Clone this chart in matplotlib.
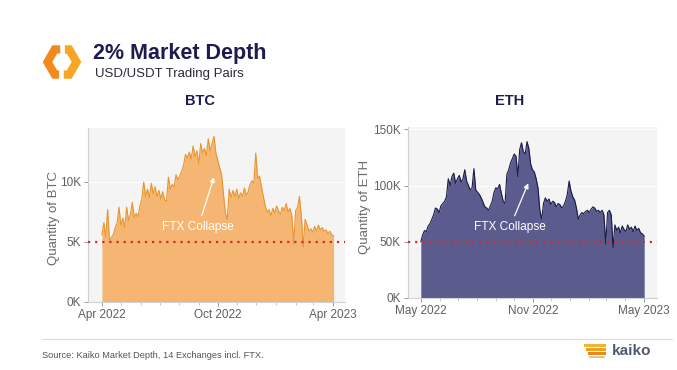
import numpy as np
import pandas as pd
import matplotlib
matplotlib.use("Agg")
from matplotlib import pyplot as plt
import matplotlib.dates as mdates
from matplotlib.ticker import FuncFormatter

plt.rcParams["font.family"] = ["Liberation Sans", "DejaVu Sans"]

# BTC 2% depth (thousands of BTC), one reading every 3 days from 2022-04-01
btc_depth = [5.6, 6.6, 5.4, 7.7, 5.0, 5.4, 5.6, 6.2, 6.6, 7.9, 6.4, 7.0, 6.2, 7.9, 6.8, 7.3,
             8.3, 7.0, 7.4, 7.1, 8.0, 8.6, 10.0, 8.8, 9.4, 8.7, 9.9, 9.0, 9.6, 8.8, 9.3, 8.6,
             9.2, 8.5, 8.4, 10.4, 9.4, 9.8, 9.6, 10.6, 10.2, 10.5, 10.9, 11.4, 12.3, 12.0, 12.5,
             11.9, 13.0, 12.1, 12.6, 11.5, 13.2, 12.4, 12.8, 12.2, 13.6, 12.6, 13.2, 13.8, 12.4,
             11.8, 11.2, 10.6, 9.0, 7.4, 6.9, 9.4, 8.7, 9.3, 8.8, 9.4, 8.6, 9.1, 8.8, 9.5, 8.9,
             9.2, 9.8, 10.1, 9.9, 12.4, 10.3, 10.5, 9.6, 8.8, 8.0, 7.5, 7.7, 7.2, 7.8, 7.4, 8.0,
             7.6, 7.3, 7.9, 7.6, 8.2, 7.5, 7.8, 7.2, 4.8, 7.6, 7.9, 8.8, 7.2, 4.6, 6.9, 6.4,
             5.9, 6.1, 5.8, 6.3, 5.9, 6.4, 6.0, 6.2, 5.9, 6.0, 5.7, 5.9, 5.6, 5.5]

# ETH 2% depth (thousands of ETH), one reading every 3 days from 2022-05-01
eth_depth = [50, 56, 60, 59, 64, 66, 70, 74, 80, 79, 76, 82, 84, 86, 90, 106, 100, 108, 111,
             102, 106, 109, 103, 106, 114, 104, 100, 96, 98, 115, 96, 94, 92, 89, 85, 81, 80,
             78, 82, 86, 94, 98, 97, 101, 93, 86, 84, 110, 114, 120, 124, 128, 126, 108, 132,
             138, 130, 128, 139, 133, 119, 114, 112, 106, 98, 78, 70, 84, 89, 86, 88, 83, 86,
             85, 81, 84, 83, 80, 82, 86, 92, 104, 95, 90, 87, 80, 70, 74, 76, 75, 77, 78, 76,
             79, 81, 80, 77, 78, 76, 78, 74, 48, 76, 78, 74, 45, 65, 60, 63, 58, 64, 61, 59,
             65, 61, 63, 59, 64, 60, 62, 58, 57, 55]

btc_dates = pd.date_range("2022-04-01", periods=len(btc_depth), freq="3D")
eth_dates = pd.date_range("2022-05-01", periods=len(eth_depth), freq="3D")

btc_threshold = 5000
eth_threshold = 50000

W, H = 677, 370
fig = plt.figure(figsize=(W / 100, H / 100), dpi=100)
fig.patch.set_facecolor("white")

navy = "#1c1c4e"
tick_grey = "#5f5f5f"


def style_axes(ax, yticks, xlim, ylim, month0):
    ax.set_facecolor("#f4f4f4")
    for s in ["top", "right"]:
        ax.spines[s].set_visible(False)
    for s in ["left", "bottom"]:
        ax.spines[s].set_color("#d0d0d0")
        ax.spines[s].set_linewidth(0.8)
    ax.set_xlim(pd.Timestamp(xlim[0]), pd.Timestamp(xlim[1]))
    ax.set_ylim(*ylim)
    ax.set_yticks(yticks)
    ax.yaxis.set_major_formatter(FuncFormatter(lambda v, p: "%dK" % round(v / 1000)))
    ax.xaxis.set_major_locator(mdates.MonthLocator(bymonth=[month0, month0 + 6]))
    ax.xaxis.set_minor_locator(mdates.MonthLocator())
    ax.xaxis.set_major_formatter(mdates.DateFormatter("%b %Y"))
    ax.grid(axis="y", color="white", linewidth=0.8)
    ax.set_axisbelow(True)
    ax.tick_params(axis="both", which="major", labelsize=8.5, colors="#999999",
                   labelcolor=tick_grey, length=3, width=0.7, pad=2)
    ax.tick_params(axis="x", which="minor", colors="#bbbbbb", length=2, width=0.6)


# ---- BTC panel
ax1 = fig.add_axes([88 / W, 1 - 302 / H, 257 / W, 174 / H])
btc_depth_k = np.array(btc_depth) * 1000
ax1.fill_between(btc_dates, btc_depth_k, 0, color="#f5b673", linewidth=0, zorder=2)
ax1.plot(btc_dates, btc_depth_k, color="#e8952e", linewidth=0.8, zorder=3)
ax1.axhline(btc_threshold, color="#d62a2a", linestyle=(0, (1, 2.2)), linewidth=1.6, zorder=4)
style_axes(ax1, [0, 5000, 10000], ("2022-03-10", "2023-04-20"), (0, 14500), 4)
ax1.set_ylabel("Quantity of BTC", fontsize=9.5, color="#6a6a6a")
ax1.yaxis.set_label_coords(-0.11, 0.48)
ax1.annotate("FTX Collapse", xy=(pd.Timestamp("2022-09-25"), 10400),
             xytext=(pd.Timestamp("2022-08-31"), 6250), ha="center", va="center",
             fontsize=8.6, color="white", zorder=5,
             arrowprops=dict(arrowstyle="-|>", color="white", lw=0.9, mutation_scale=7,
                             shrinkA=2, shrinkB=0))

# ---- ETH panel
ax2 = fig.add_axes([408 / W, 1 - 298 / H, 249 / W, 171 / H])
eth_depth_k = np.array(eth_depth) * 1000
ax2.fill_between(eth_dates, eth_depth_k, 0, color="#5b5b8d", linewidth=0, zorder=2)
ax2.plot(eth_dates, eth_depth_k, color="#1a1a48", linewidth=0.8, zorder=3)
ax2.axhline(eth_threshold, color="#d62a2a", linestyle=(0, (1, 2.2)), linewidth=1.6, zorder=4)
style_axes(ax2, [0, 50000, 100000, 150000], ("2022-04-10", "2023-05-23"), (0, 152000), 5)
ax2.set_ylabel("Quantity of ETH", fontsize=9.5, color="#6a6a6a")
ax2.yaxis.set_label_coords(-0.15, 0.53)
ax2.annotate("FTX Collapse", xy=(pd.Timestamp("2022-10-24"), 102000),
             xytext=(pd.Timestamp("2022-09-24"), 63000), ha="center", va="center",
             fontsize=8.6, color="white", zorder=5,
             arrowprops=dict(arrowstyle="-|>", color="white", lw=0.9, mutation_scale=7,
                             shrinkA=2, shrinkB=0))

# ---- overlay in pixel coordinates for titles, logo and footer
ov = fig.add_axes([0, 0, 1, 1], zorder=-1)
ov.set_xlim(0, W)
ov.set_ylim(H, 0)
ov.axis("off")

# top-left logo: two bracket halves of a hexagon
cx, cy, r = 62, 62, 14.5
left_pts = [(cx - r * 0.12, cy - r * 0.87)]
left_pts += [(cx + r * np.cos(a), cy - r * np.sin(a)) for a in np.radians([120, 180, 240])]
left_pts += [(cx - r * 0.2, cy + r * 0.87)]
right_pts = [(cx + r * 0.2, cy - r * 0.87)]
right_pts += [(cx + r * np.cos(a), cy - r * np.sin(a)) for a in np.radians([60, 0, -60])]
right_pts += [(cx + r * 0.12, cy + r * 0.87)]
lx, ly = zip(*left_pts)
rx, ry = zip(*right_pts)
ov.plot(lx, ly, color="#f08a1e", linewidth=6, solid_joinstyle="miter", solid_capstyle="butt")
ov.plot(rx, ry, color="#f6a623", linewidth=6, solid_joinstyle="miter", solid_capstyle="butt")

ov.text(93, 53, "2% Market Depth", fontsize=15.5, fontweight="bold", color=navy,
        ha="left", va="center")
ov.text(95, 74, "USD/USDT Trading Pairs", fontsize=9.5, color="#2a2a3a",
        ha="left", va="center")
ov.text(200, 101, "BTC", fontsize=10.5, fontweight="bold", color=navy, ha="center", va="center")
ov.text(510, 101, "ETH", fontsize=10.5, fontweight="bold", color=navy, ha="center", va="center")

# footer
ov.plot([42, 672], [339, 339], color="#dcdcdc", linewidth=0.8)
ov.text(42, 356, "Source: Kaiko Market Depth, 14 Exchanges incl. FTX.", fontsize=6.7,
        color="#555555", ha="left", va="center")
for i, c in enumerate(["#f2b233", "#f0a020", "#e88a18"]):
    ov.plot([585 + i * 2, 604], [345 + i * 4, 345 + i * 4], color=c, linewidth=2.2)
ov.plot([590, 604], [357, 357], color="#d7c7a5", linewidth=1.5)
ov.text(612, 351, "kaiko", fontsize=11, fontweight="bold", color="#505b75",
        ha="left", va="center")

fig.savefig("out.png", dpi=100, facecolor="white")
